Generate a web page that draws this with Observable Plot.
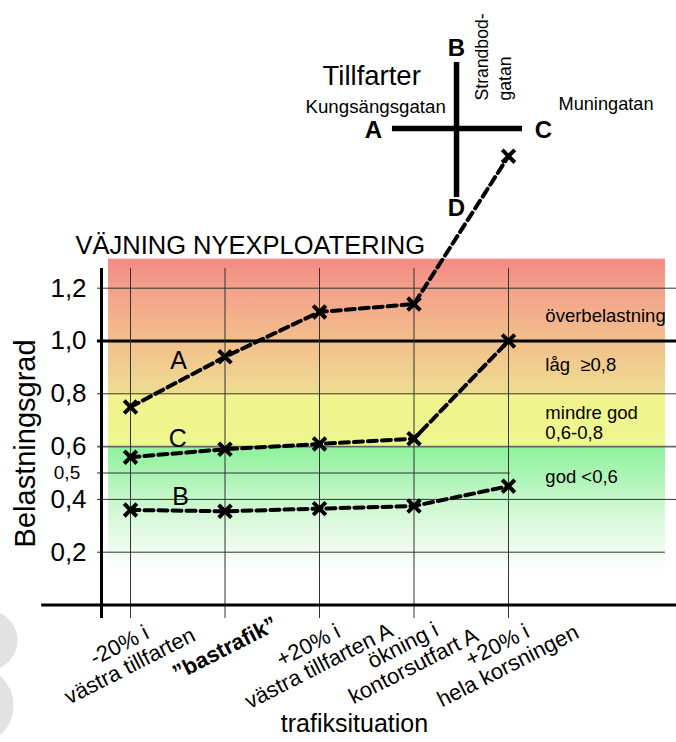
<!DOCTYPE html>
<html><head><meta charset="utf-8">
<script src="https://cdn.jsdelivr.net/npm/d3@7"></script>
<script src="https://cdn.jsdelivr.net/npm/@observablehq/plot@0.6"></script>
<style>body{margin:0;background:#fff}</style>
</head><body><div id="chart"></div>
<script>
// ---- data ----
const situations = ["-20% i\nvästra tillfarten", "”bastrafik”", "+20% i\nvästra tillfarten A", "ökning i\nkontorsutfart A", "+20% i\nhela korsningen"];
const seriesNames = ["A", "B", "C"];
const valuesA = [0.75, 0.94, 1.11, 1.14, 1.70];
const valuesB = [0.36, 0.355, 0.365, 0.375, 0.45];
const valuesC = [0.56, 0.59, 0.61, 0.63, 1.00];
const yTicks = [0.2, 0.4, 0.6, 0.8, 1.0, 1.2];
const yMinorTicks = [0.5];
const zoneBounds = [0.12, 0.6, 0.8, 1.31];
const zoneTexts = ["god <0,6", "mindre god\n0,6-0,8", "låg  ≥0,8", "överbelastning"];
const zoneTextLevels = [0.487, 0.691, 0.911, 1.097];
const seriesLabelLevels = [0.925, 0.41, 0.63];
const junctionNames = ["A", "B", "C", "D"];
const streetNames = ["Kungsängsgatan", "Strandbod-", "gatan", "Muningatan"];

const series = [valuesA, valuesB, valuesC];
const points = series.flatMap((vals, s) => vals.map((v, i) => ({series: seriesNames[s], i, value: v})));
const fmt = d => d.toFixed(1).replace(".", ",");
const catRows = situations.map((label, i) => ({i, label, bold: i === 1}));

function gradientDefs() {
  const ns = "http://www.w3.org/2000/svg";
  const defs = document.createElementNS(ns, "defs");
  const make = (id, stops) => {
    const g = document.createElementNS(ns, "linearGradient");
    g.setAttribute("id", id);
    g.setAttribute("x1", "0"); g.setAttribute("y1", "0");
    g.setAttribute("x2", "0"); g.setAttribute("y2", "1");
    for (const [o, c] of stops) {
      const s = document.createElementNS(ns, "stop");
      s.setAttribute("offset", o); s.setAttribute("stop-color", c);
      g.appendChild(s);
    }
    defs.appendChild(g);
  };
  make("gTop", [[0, "#f38a86"], [0.216, "#f3a08a"], [0.608, "#f2bf8b"], [1, "#eedc92"]]);
  make("gYel", [[0, "#f1f28c"], [1, "#eef78f"]]);
  make("gGreen", [[0, "#8ef29c"], [0.208, "#a8f4b2"], [0.417, "#c6f7ca"], [0.625, "#dff9e0"], [0.833, "#f0fcf0"], [1, "#ffffff"]]);
  return defs;
}

const bands = [
  {lo: zoneBounds[0], hi: zoneBounds[1], fill: "url(#gGreen)"},
  {lo: zoneBounds[1], hi: zoneBounds[2], fill: "url(#gYel)"},
  {lo: zoneBounds[2], hi: zoneBounds[3], fill: "url(#gTop)"}
];

const font = "'Liberation Sans', Arial, Helvetica, sans-serif";

const chart = Plot.plot({
  width: 676, height: 742,
  marginLeft: 130, marginRight: 168, marginTop: 287.7, marginBottom: 137.5,
  x: {domain: [0, 4], axis: null},
  y: {domain: [0, 1.2]},
  style: {fontFamily: font, background: "#fff", overflow: "hidden", color: "#000"},
  marks: [
    gradientDefs,
    // faint watermark at lower left
    Plot.dot([0], {x: -1.513, y: -0.134, r: 30, fill: "#e2e2e2", stroke: null}),
    Plot.dot([0], {x: -1.661, y: -0.381, r: 40, fill: "#e2e2e2", stroke: null}),
    ...bands.map(b => Plot.rect([b], {x1: -0.233, x2: 5.661, y1: "lo", y2: "hi", fill: b.fill})),
    // horizontal grid
    Plot.ruleY([0.4, 0.8, 1.2], {x1: -0.35, x2: 5.8, stroke: "#333", strokeWidth: 1}),
    Plot.ruleY([0.6], {x1: -0.35, x2: 5.8, stroke: "#666", strokeWidth: 1.6}),
    Plot.ruleY([0.2], {x1: -0.35, x2: 5.66, stroke: "#333", strokeWidth: 1}),
    Plot.ruleY(yMinorTicks, {x1: -0.35, x2: 4.02, stroke: "#333", strokeWidth: 1}),
    Plot.ruleY([1.0], {x1: -0.35, x2: 5.8, stroke: "#000", strokeWidth: 3}),
    // vertical grid
    Plot.ruleX(d3.range(situations.length), {y1: -0.051, y2: 1.275, stroke: "#333", strokeWidth: 1}),
    // axes lines
    Plot.ruleX([-0.307], {y1: -0.051, y2: 1.275, stroke: "#000", strokeWidth: 3}),
    Plot.ruleY([0], {x1: -0.94, x2: 5.8, stroke: "#000", strokeWidth: 3}),
    // axes labels
    Plot.axisY(yTicks, {tickSize: 0, tickPadding: 62, textAnchor: "middle", fontSize: 26, tickFormat: fmt, label: null}),
    Plot.axisY(yMinorTicks, {tickSize: 0, tickPadding: 63.5, textAnchor: "middle", fontSize: 19, tickFormat: fmt, label: null}),
    Plot.text(catRows.filter(d => !d.bold), {x: "i", y: -0.191, text: "label", rotate: -27, dx: -6, textAnchor: "middle", lineAnchor: "middle", lineHeight: 1.05, fontSize: 22}),
    Plot.text(catRows.filter(d => d.bold), {x: "i", y: -0.165, text: "label", rotate: -27, textAnchor: "middle", lineAnchor: "middle", fontSize: 22, fontWeight: "bold"}),
    Plot.text(["Belastningsgrad"], {x: -1.105, y: 0.612, rotate: -90, fontSize: 29, textAnchor: "middle", lineAnchor: "middle"}),
    Plot.text(["trafiksituation"], {x: 2.37, y: -0.449, fontSize: 25, textAnchor: "middle", lineAnchor: "middle"}),
    // series
    Plot.line(points, {x: "i", y: "value", z: "series", stroke: "#000", strokeWidth: 4, strokeDasharray: "9,5"}),
    Plot.dot(points, {x: "i", y: "value", symbol: "times", r: 5.8, stroke: "#000", strokeWidth: 4}),
    Plot.text(seriesNames, {x: [0.51, 0.53, 0.5], y: seriesLabelLevels, text: d => d, fontSize: 25, textAnchor: "middle", lineAnchor: "middle"}),
    // zone labels
    Plot.text(zoneTexts, {x: 4.39, y: zoneTextLevels, text: d => d, fontSize: 18.5, textAnchor: "start", lineAnchor: "middle", lineHeight: 1.1}),
    // title
    Plot.text(["VÄJNING NYEXPLOATERING"], {x: -0.582, y: 1.361, fontSize: 25.5, textAnchor: "start", lineAnchor: "middle"}),
    // junction sketch
    Plot.ruleY([1.805], {x1: 2.772, x2: 4.148, stroke: "#000", strokeWidth: 5.5}),
    Plot.ruleX([3.45], {y1: 1.544, y2: 2.055, stroke: "#000", strokeWidth: 5.5}),
    Plot.text(junctionNames, {x: [2.571, 3.45, 4.37, 3.45], y: [1.797, 2.108, 1.797, 1.502], text: d => d, fontSize: 24, fontWeight: "bold", textAnchor: "middle", lineAnchor: "middle"}),
    Plot.text(["Tillfarter"], {x: 2.032, y: 2.004, fontSize: 27.5, textAnchor: "start", lineAnchor: "middle"}),
    Plot.text([streetNames[0]], {x: 1.852, y: 1.886, fontSize: 18.7, textAnchor: "start", lineAnchor: "middle"}),
    Plot.text([streetNames[3]], {x: 4.529, y: 1.897, fontSize: 18.2, textAnchor: "start", lineAnchor: "middle"}),
    Plot.text([streetNames[1], streetNames[2]], {x: [3.724, 3.968], y: [1.911, 1.911], text: d => d, rotate: -90, fontSize: 17.6, textAnchor: "start", lineAnchor: "middle"})
  ]
});
document.getElementById("chart").appendChild(chart);
</script>
</body></html>
